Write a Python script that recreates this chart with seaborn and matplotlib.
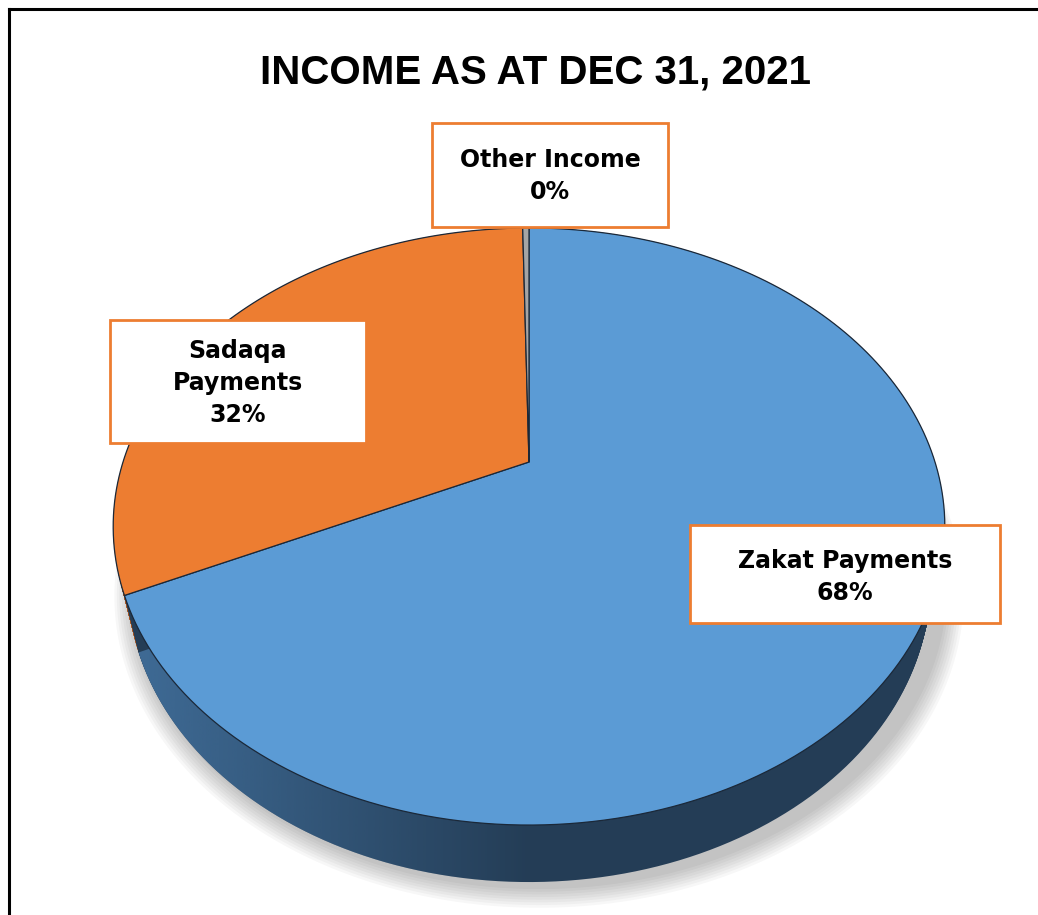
import matplotlib
matplotlib.use("Agg")
from matplotlib import pyplot as plt
from matplotlib.patches import Rectangle
from matplotlib.path import Path
from matplotlib.transforms import Transform
import numpy as np
import seaborn as sns

sns.set_theme(style="white")
plt.rcParams['font.family'] = ['DejaVu Sans']

# income shares (percent)
categories = ['Zakat Payments', 'Sadaqa Payments', 'Other Income']
shares = [68.0, 31.7, 0.3]
box_text = ['Zakat Payments', 'Sadaqa\nPayments', 'Other Income']

top_colors = ['#5b9bd5', '#ed7d31', '#a5a5a5']
side_colors = ['#243d56', '#a9531c', '#6e6e6e']

W, H = 1038, 915

# tilted-disc geometry (pixels): centre x, vertex y, perspective k
CX, VY = 529, 462
K = 0.2161
A, B = 406, 284.6
DEPTH = 57


class Tilt(Transform):
    """project the unit disc of the pie onto a tilted plane (pixel coords)"""
    input_dims = output_dims = 2
    is_separable = False
    has_inverse = False

    def __init__(self, drop=0.0, shift=0.0, squeeze=1.0):
        super().__init__()
        self.drop = drop
        self.shift = shift
        self.squeeze = squeeze

    def transform_non_affine(self, values):
        values = np.asarray(values, float)
        u, v = values[:, 0], values[:, 1]
        w = 1 + K * v
        return np.column_stack([CX + self.squeeze * A * u / w + self.shift,
                                VY - B * v / w + self.drop])

    def transform_path_non_affine(self, path):
        verts = []
        for seg, code in path.iter_bezier():
            if code == Path.MOVETO:
                verts.append(seg.control_points[0])
            else:
                verts.extend(seg(np.linspace(0, 1, 24)[1:]))
        verts = np.array(verts)
        return Path(self.transform_non_affine(verts), closed=True)


fig = plt.figure(figsize=(W / 100, H / 100), dpi=100)
ax = fig.add_axes([0, 0, 1, 1])

# soft shadow
for r in np.linspace(1.0, 1.04, 8):
    ax.pie([1], colors=['black'], radius=r,
           wedgeprops=dict(linewidth=0, alpha=0.03, zorder=0.5,
                           transform=Tilt(drop=DEPTH + 7, shift=10, squeeze=0.98) + ax.transData))

# extruded side (slightly narrower towards the bottom)
for d in np.linspace(DEPTH, 0, 50):
    sq = 1 - 0.035 * d / DEPTH
    bottom, _ = ax.pie(shares, colors=side_colors, startangle=90, counterclock=False,
                       wedgeprops=dict(linewidth=0, zorder=1,
                                       transform=Tilt(drop=d, squeeze=sq) + ax.transData))
    if d == DEPTH:
        base_wedge = bottom[0]

# lighter sheen on the left of the side
grad = np.zeros((1, 256, 4))
grad[..., 0:3] = np.array([74, 126, 176]) / 255
grad[0, :, 3] = np.clip(np.linspace(0.75, -0.05, 256), 0, 1)
ax.imshow(grad, extent=(110, 560, 900, 500), aspect='auto', zorder=1.2,
          clip_path=base_wedge, interpolation='bilinear')

# top face
ax.pie(shares, colors=top_colors, startangle=90, counterclock=False,
       wedgeprops=dict(linewidth=0.9, edgecolor='#1b2838', zorder=2,
                       transform=Tilt() + ax.transData))

ax.set_aspect('auto')
ax.set_xlim(0, W)
ax.set_ylim(H, 0)
ax.axis('off')

# label boxes: (x0, y0, width, height) in pixels, text centre y
boxes = [(690, 525, 310, 98, 577), (110, 320, 256, 123, 383), (432, 123, 236, 104, 176)]
for txt, share, (x0, y0, bw, bh, ty) in zip(box_text, shares, boxes):
    ax.add_patch(Rectangle((x0, y0), bw, bh, facecolor='white', edgecolor='#ed7d31',
                           linewidth=2, zorder=5))
    ax.text(x0 + bw / 2, ty, f"{txt}\n{share:.0f}%", ha='center', va='center',
            fontsize=17, fontweight='bold', color='black', linespacing=1.4, zorder=6)

ax.text(535, 72, 'INCOME AS AT DEC 31, 2021', ha='center', va='center',
        fontsize=29, fontweight='bold', color='black',
        family=['Liberation Sans', 'DejaVu Sans'])

# outer frame (left and top)
ax.plot([9, 9], [H, 8.5], color='black', lw=2.2, clip_on=False, solid_capstyle='projecting')
ax.plot([9, W], [8.5, 8.5], color='black', lw=2.2, clip_on=False, solid_capstyle='projecting')

plt.savefig('out.png', dpi=100)
